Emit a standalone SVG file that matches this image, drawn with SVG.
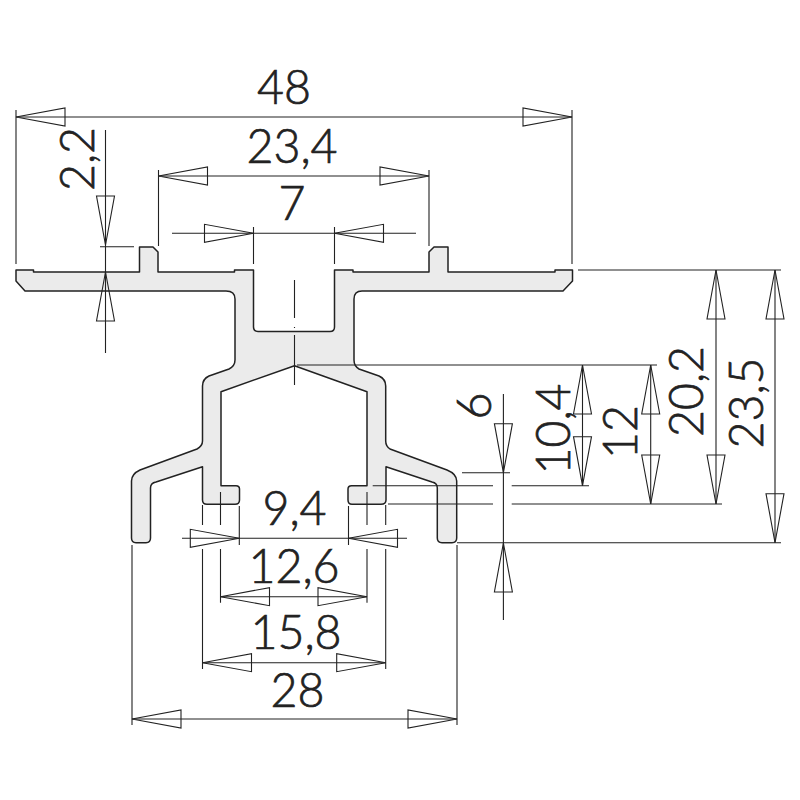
<svg xmlns="http://www.w3.org/2000/svg" width="800" height="800" viewBox="0 0 800 800">
<style>
.p{fill:#ebebeb;stroke:#222;stroke-width:1.5;stroke-linejoin:round}
.l{fill:none;stroke:#222;stroke-width:1.1}
.a{fill:none;stroke:#222;stroke-width:1.1}
text{font-family:"Lato","Liberation Sans",sans-serif;font-size:46.5px;font-weight:300;fill:#222;stroke:#222;stroke-width:.7;text-anchor:middle}
</style>
<defs>
<path id="ar" class="a" d="M0 0L-49 -9V9Z"/>
</defs>
<rect width="800" height="800" fill="#fff"/>
<g id="profile">
<path class="p" d="M16 270H33.5V272H139.5V247H153L158 252V272H234.5V270H253.5V327Q253.5 331.5 258 331.5H330Q334.5 331.5 334.5 327V270H353V272H429V252L434 247H448V272H555V270H572.5V281L563 291H362Q354 291 354 299V360Q354 366 359 369L379 376Q385.7 379 385.7 386V441Q385.7 446 390 449L447 470Q456.7 474 456.7 481V538Q456.7 542.7 452 542.7H442Q437.3 542.7 437.3 538V488Q437.3 483 432 482L386 466.7V500Q386 504.3 381 504.3H352Q348 504.3 348 500V489Q348 485.7 351.5 485.7H367V391.7L294.5 365.7L221 391.7V485.7H236Q239.5 485.7 239.5 489V500Q239.5 504.3 235 504.3H207Q202.5 504.3 202.5 500V466.7L156 482Q150.5 483 150.5 488V538Q150.5 542.7 146 542.7H136Q131.5 542.7 131.5 538V481Q131.5 474 140 470L197 449Q202.5 446 202.5 441V386Q202.5 379 209 376L229 369Q235 366 235 360V299Q235 291 226 291H25L16 281Z"/>
</g>
<g id="connectors">
<path class="l" d="M16 110V264M572 110V264M16 117H572"/>
<path class="l" d="M105.5 130V353M100 246.7H134"/>
<path class="l" d="M158.5 170V246M429 170V246M158.5 176H429"/>
<path class="l" d="M172 233.3H416M253.5 227V264M334.5 227V264"/>
<path class="l" d="M294.5 280V318M294.5 327V328M294.5 335V385"/>
<path class="l" d="M578 270H781M297 365H657M372.7 485.7H493M511.7 485.7H589M388 504H493M511.7 504H722M457 542.7H781M462 472.7H510"/>
<path class="l" d="M582.5 365V485.7M650.7 365V504M716 270V504M775 270V542.7M503.4 394V620"/>
<path class="l" d="M182 538.3H407M202.5 505V525M202.5 549V669M220.5 492V525M220.5 549V602.7M239.3 506V545M348.5 506V545M367 492V525M367 549V602.7M385.7 505V525M385.7 549V669"/>
<path class="l" d="M220.5 596.7H367M202.5 662.7H385.7M132 545V725M457 545V725M132 719H457"/>
<g id="arrows">
<use href="#ar" transform="translate(16 117) rotate(180)"/>
<use href="#ar" transform="translate(572 117)"/>
<use href="#ar" transform="translate(105.5 245) rotate(90)"/>
<use href="#ar" transform="translate(105.5 272) rotate(-90)"/>
<use href="#ar" transform="translate(158.5 176) rotate(180)"/>
<use href="#ar" transform="translate(429 176)"/>
<use href="#ar" transform="translate(253.5 233.3)"/>
<use href="#ar" transform="translate(334.5 233.3) rotate(180)"/>
<use href="#ar" transform="translate(582.5 365) rotate(-90)"/>
<use href="#ar" transform="translate(582.5 485.7) rotate(90)"/>
<use href="#ar" transform="translate(650.7 365) rotate(-90)"/>
<use href="#ar" transform="translate(650.7 504) rotate(90)"/>
<use href="#ar" transform="translate(716 270) rotate(-90)"/>
<use href="#ar" transform="translate(716 504) rotate(90)"/>
<use href="#ar" transform="translate(775 270) rotate(-90)"/>
<use href="#ar" transform="translate(775 542.7) rotate(90)"/>
<use href="#ar" transform="translate(503.4 472.7) rotate(90)"/>
<use href="#ar" transform="translate(503.4 543) rotate(-90)"/>
<use href="#ar" transform="translate(239.3 538.3)"/>
<use href="#ar" transform="translate(348.5 538.3) rotate(180)"/>
<use href="#ar" transform="translate(220.5 596.7) rotate(180)"/>
<use href="#ar" transform="translate(367 596.7)"/>
<use href="#ar" transform="translate(202.5 662.7) rotate(180)"/>
<use href="#ar" transform="translate(385.7 662.7)"/>
<use href="#ar" transform="translate(132 719) rotate(180)"/>
<use href="#ar" transform="translate(457 719)"/>
</g>
</g>
<g id="labels">
<text x="284" y="104">48</text>
<text x="292" y="163">23,4</text>
<text x="292" y="220">7</text>
<text x="294.5" y="525">9,4</text>
<text x="294" y="583">12,6</text>
<text x="296" y="649">15,8</text>
<text x="297.5" y="707">28</text>
<text transform="translate(94 159) rotate(-90)">2,2</text>
<text transform="translate(490.5 406) rotate(-90)">6</text>
<text transform="translate(569.5 429) rotate(-90)">10,4</text>
<text transform="translate(637 432) rotate(-90)">12</text>
<text transform="translate(703 391.5) rotate(-90)">20,2</text>
<text transform="translate(762.5 403) rotate(-90)">23,5</text>
</g>
</svg>
